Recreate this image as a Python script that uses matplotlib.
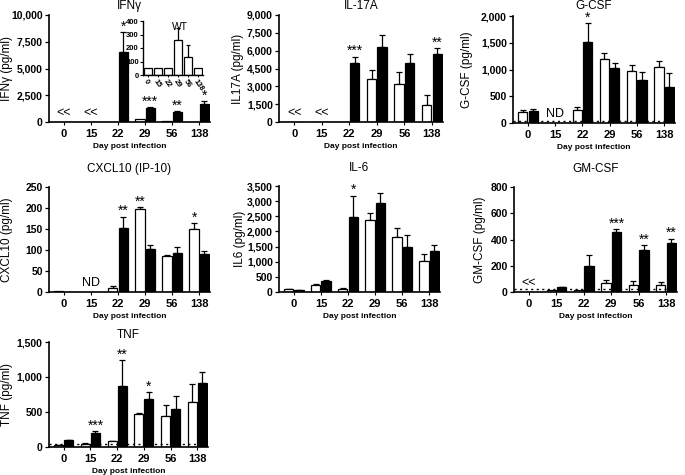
import numpy as np
import matplotlib
matplotlib.use("Agg")
import matplotlib.pyplot as plt

plt.rcParams['font.family'] = ['Liberation Sans', 'DejaVu Sans']

# ── data ────────────────────────────────────────────────────────────────────
days = ["0", "15", "22", "29", "56", "138"]
nan = np.nan

ifng_white = [0, 0, 30, 250, 130, 30]
ifng_white_err = [0, 0, 0, 0, 0, 0]
ifng_black = [0, 0, 6500, 1300, 950, 1650]
ifng_black_err = [0, 0, 1900, 60, 80, 300]

ifng_wt = [50, 50, 55, 260, 130, 50]
ifng_wt_err = [0, 0, 0, 85, 95, 0]

il17_white = [0, 0, 30, 3600, 3200, 1450]
il17_white_err = [0, 0, 0, 800, 1000, 850]
il17_black = [0, 0, 5000, 6300, 5000, 5750]
il17_black_err = [0, 0, 500, 1000, 750, 450]

gcsf_white = [210, nan, 240, 1190, 970, 1050]
gcsf_white_err = [30, 0, 60, 120, 110, 110]
gcsf_black = [230, nan, 1520, 1020, 810, 680]
gcsf_black_err = [40, 0, 340, 100, 150, 250]

cxcl10_white = [3, nan, 10, 197, 85, 149]
cxcl10_white_err = [0, 0, 5, 5, 3, 15]
cxcl10_black = [1, nan, 152, 102, 94, 91]
cxcl10_black_err = [0, 0, 27, 10, 14, 6]

il6_white = [90, 240, 100, 2370, 1800, 1040]
il6_white_err = [20, 40, 20, 230, 320, 230]
il6_black = [70, 360, 2480, 2930, 1480, 1350]
il6_black_err = [10, 30, 700, 350, 400, 190]

gmcsf_white = [nan, 15, 15, 65, 50, 50]
gmcsf_white_err = [0, 0, 0, 30, 35, 30]
gmcsf_black = [nan, 35, 200, 455, 320, 370]
gmcsf_black_err = [0, 5, 85, 25, 35, 35]

tnf_white = [30, 50, 80, 470, 450, 640]
tnf_white_err = [5, 10, 10, 15, 150, 260]
tnf_black = [100, 200, 870, 690, 540, 910]
tnf_black_err = [5, 30, 370, 90, 190, 160]

# (group, series, label)
ifng_stars = [(2, "b", "*"), (3, "b", "***"), (4, "b", "**"), (5, "b", "*")]
il17_stars = [(2, "b", "***"), (5, "b", "**")]
gcsf_stars = [(2, "b", "*")]
cxcl10_stars = [(2, "b", "**"), (3, "w", "**"), (5, "w", "*")]
il6_stars = [(2, "b", "*")]
gmcsf_stars = [(3, "b", "***"), (4, "b", "**"), (5, "b", "**")]
tnf_stars = [(1, "b", "***"), (2, "b", "**"), (3, "b", "*")]

# ── layout (pixel boxes) ────────────────────────────────────────────────────
W, H = 685, 475
fig = plt.figure(figsize=(W / 100, H / 100), dpi=100)


def px_axes(l, t, r, b):
    ax = fig.add_axes([l / W, 1 - b / H, (r - l) / W, (b - t) / H])
    ax._wpx = r - l
    return ax


OFF = 0.19
BW = 0.34


def panel(ax, title, ylabel, white, werr, black, berr, ymax, step,
          stars=(), notes=None, dotted=None, title_pad=4, label_dist=42):
    x = np.arange(len(days))
    w = np.array(white, float)
    b = np.array(black, float)
    we = np.array(werr, float)
    be = np.array(berr, float)
    ax.bar(x - OFF, w, BW, color="white", edgecolor="black", linewidth=0.9, zorder=2)
    ax.bar(x + OFF, b, BW, color="black", edgecolor="black", linewidth=0.9, zorder=2)
    for xs, v, e in ((x - OFF, w, we), (x + OFF, b, be)):
        m = e > 0
        ax.errorbar(xs[m], v[m], yerr=[np.zeros(m.sum()), e[m]], fmt="none",
                    ecolor="black", elinewidth=0.9, capsize=2, capthick=0.9, zorder=1)
    for g, s, lab in stars:
        xx = g - OFF if s == "w" else g + OFF
        top = (w[g] + we[g]) if s == "w" else (b[g] + be[g])
        ax.annotate(lab, (xx, top), xytext=(0, -1), textcoords="offset points",
                    ha="center", va="bottom", fontsize=10)
    if notes:
        for g, lab in notes.items():
            ax.annotate(lab, (g, 0), xytext=(0, 2), textcoords="offset points",
                        ha="center", va="bottom", fontsize=9)
    if dotted is not None:
        ax.axhline(dotted, color="black", linestyle=(0, (1.5, 2.5)), linewidth=1.0, zorder=3)
    ax.set_xlim(-0.55, 5.4)
    ax.set_ylim(0, ymax)
    ticks = np.arange(0, ymax + step / 2, step)
    ax.set_yticks(ticks)
    ax.set_yticklabels([f"{int(t):,}" for t in ticks], fontsize=7.5, fontweight="bold")
    ax.set_xticks(x)
    ax.set_xticklabels(days, fontsize=8, fontweight="bold")
    ax.tick_params(axis="x", length=2, width=0.8, pad=3)
    ax.tick_params(axis="y", length=3, width=0.9, pad=1.5)
    for sp in ("top", "right"):
        ax.spines[sp].set_visible(False)
    for sp in ("left", "bottom"):
        ax.spines[sp].set_linewidth(1.2)
    ax.set_title(title, fontsize=8.5, pad=title_pad)
    ax.set_ylabel(ylabel, fontsize=8.5)
    ax.yaxis.set_label_coords(-(label_dist - 6) / ax._wpx, 0.5)
    ax.set_xlabel("Day post infection", fontsize=6, fontweight="bold", labelpad=3)


# row 1
ax1 = px_axes(49, 15, 210, 122)
panel(ax1, "IFNγ", "IFNγ (pg/ml)", ifng_white, ifng_white_err, ifng_black, ifng_black_err,
      10000, 2500, ifng_stars, {0: "<<", 1: "<<"}, label_dist=42)

ax2 = px_axes(279, 15, 443, 122)
panel(ax2, "IL-17A", "IL17A (pg/ml)", il17_white, il17_white_err, il17_black, il17_black_err,
      9000, 1500, il17_stars, {0: "<<", 1: "<<"}, label_dist=41)

ax3 = px_axes(513, 16, 675, 123)
panel(ax3, "G-CSF", "G-CSF (pg/ml)", gcsf_white, gcsf_white_err, gcsf_black, gcsf_black_err,
      2000, 500, gcsf_stars, {1: "ND"}, dotted=35, title_pad=5, label_dist=46)

# row 2
ax4 = px_axes(49, 187, 210, 292)
panel(ax4, "CXCL10 (IP-10)", "CXCL10 (pg/ml)", cxcl10_white, cxcl10_white_err,
      cxcl10_black, cxcl10_black_err, 250, 50, cxcl10_stars, {1: "ND"}, title_pad=11,
      label_dist=42)

ax5 = px_axes(279, 186, 440, 292)
panel(ax5, "IL-6", "IL6 (pg/ml)", il6_white, il6_white_err, il6_black, il6_black_err,
      3500, 500, il6_stars, title_pad=11, label_dist=39)

ax6 = px_axes(514, 187, 677, 292)
panel(ax6, "GM-CSF", "GM-CSF (pg/ml)", gmcsf_white, gmcsf_white_err, gmcsf_black,
      gmcsf_black_err, 800, 200, gmcsf_stars, {0: "<<"}, dotted=20, title_pad=11,
      label_dist=34)

# row 3
ax7 = px_axes(49, 342, 208, 447)
panel(ax7, "TNF", "TNF (pg/ml)", tnf_white, tnf_white_err, tnf_black, tnf_black_err,
      1500, 500, tnf_stars, dotted=40, title_pad=3, label_dist=42)

# inset: WT IFNγ
axi = px_axes(143, 21, 203, 75)
xi = np.arange(len(days))
axi.bar(xi, ifng_wt, 0.78, color="white", edgecolor="black", linewidth=0.9, zorder=2)
e = np.array(ifng_wt_err, float)
m = e > 0
axi.errorbar(xi[m], np.array(ifng_wt, float)[m], yerr=[np.zeros(m.sum()), e[m]], fmt="none",
             ecolor="black", elinewidth=0.9, capsize=1.5, capthick=0.9, zorder=1)
axi.set_xlim(-0.5, 5.5)
axi.set_ylim(0, 400)
axi.set_yticks([0, 100, 200, 300, 400])
axi.set_yticklabels(["0", "100", "200", "300", "400"], fontsize=5.5, fontweight="bold")
axi.set_xticks(xi)
axi.set_xticklabels(days, fontsize=5.5, fontweight="bold", rotation=-55, ha="left",
                    rotation_mode="anchor")
axi.tick_params(axis="x", length=1.5, width=0.7, pad=1)
axi.tick_params(axis="y", length=2, width=0.8, pad=1)
for sp in ("top", "right"):
    axi.spines[sp].set_visible(False)
for sp in ("left", "bottom"):
    axi.spines[sp].set_linewidth(1.0)
axi.text(0.62, 0.98, "WT", transform=axi.transAxes, ha="center", va="top", fontsize=7.5)

fig.savefig("out.png", dpi=100)
